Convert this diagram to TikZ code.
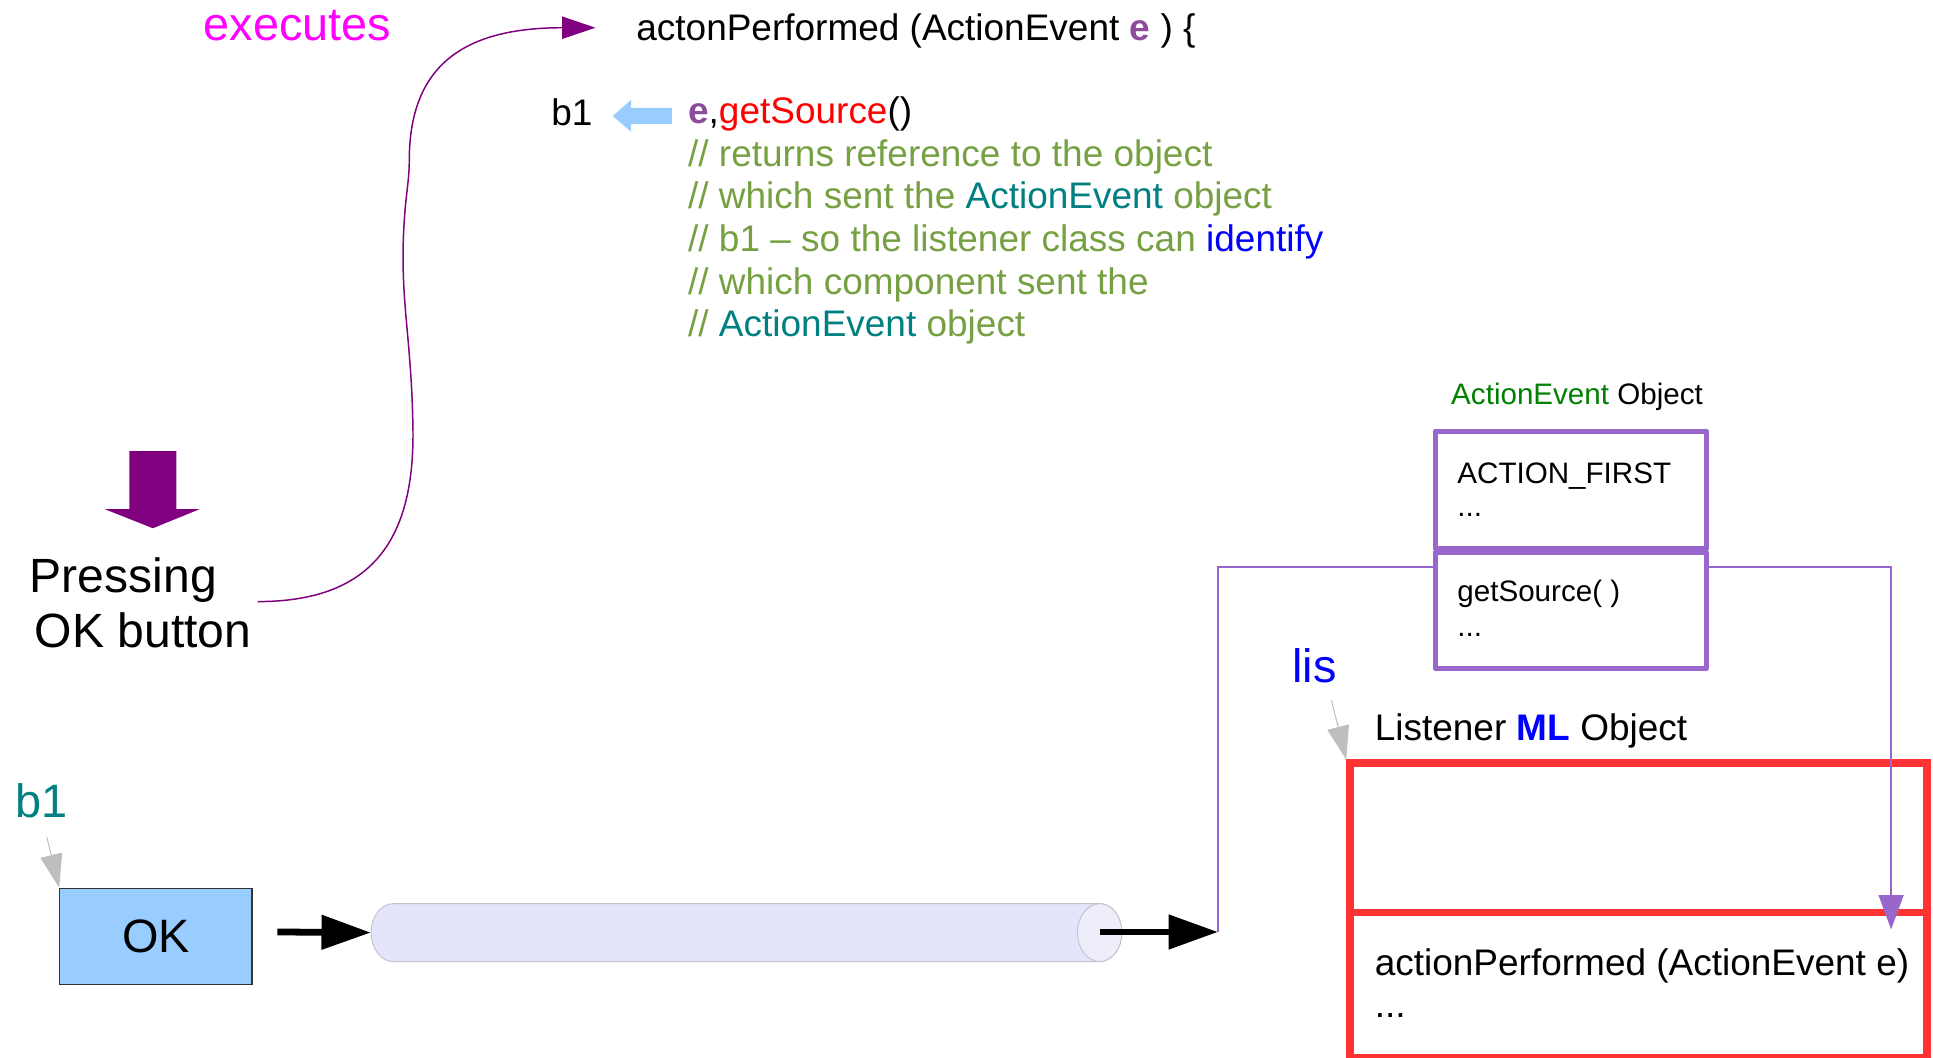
\documentclass[tikz,border=0pt]{standalone}
\usepackage{fontspec}
\setmainfont{Liberation Sans}
\usetikzlibrary{arrows.meta,calc}

\definecolor{execmag}{HTML}{FF00FF}
\definecolor{flowpurple}{HTML}{800080}
\definecolor{epurple}{HTML}{8E4B9C}
\definecolor{codegreen}{HTML}{77A043}
\definecolor{typeteal}{HTML}{008080}
\definecolor{objgreen}{HTML}{008000}
\definecolor{linkviolet}{HTML}{9966CC}
\definecolor{boxred}{HTML}{FF3333}
\definecolor{okblue}{HTML}{99CCFF}
\definecolor{pipefill}{HTML}{E4E4FA}
\definecolor{pipeend}{HTML}{EEEEFB}
\definecolor{pipeedge}{HTML}{C4C4CC}
\definecolor{pointgray}{HTML}{BEBEBE}

\newcommand\txtsize[1]{\fontsize{#1}{#1}\selectfont}

\begin{document}
\begin{tikzpicture}[x=1pt,y=-1pt,
  lbl/.style={inner sep=0pt, anchor=base west},
  codeline/.style={lbl, font=\txtsize{30}, text=codegreen},
  aebox/.style={draw=linkviolet, line width=4.2pt, line join=round, anchor=north west,
    inner sep=0pt, minimum width=220},
  mlbox/.style={draw=boxred, line width=6pt, anchor=north west, inner sep=0pt,
    minimum width=468},
  pointer/.style={pointgray, line width=0.8pt, -{Triangle[length=27pt,width=18pt]}},
  flow/.style={line width=5.5pt, -{Triangle[length=40pt,width=27pt]}},
  link/.style={linkviolet, line width=2.2pt},
]
\useasboundingbox (0,0) rectangle (1568,858);
\fill[white] (0,0) rectangle (1568,858);

% ---- handler header and its comments ----
\node[lbl, font=\txtsize{38}, text=execmag] (exec) at (165,33) {executes};
\node[lbl, font=\txtsize{30}] (header) at (516,33)
  {actonPerformed (ActionEvent {\bfseries\color{epurple}e} ) \{};

\node[lbl, font=\txtsize{30}] (src) at (447,102) {b1};
\fill[okblue] (497,94) -- (512,81) -- (512,87.5) -- (545,87.5) -- (545,100.5)
  -- (512,100.5) -- (512,107) -- cycle;
\node[lbl, font=\txtsize{30}] (code1) at (558,100)
  {{\bfseries\color{epurple}e},{\color{red}getSource}()};
\node[codeline] (code2) at (558,135) {// returns reference to the object};
\node[codeline] (code3) at (558,169.5) {// which sent the {\color{typeteal}ActionEvent} object};
\node[codeline] (code4) at (558,204) {// b1 – so the listener class can {\color{blue}identify}};
\node[codeline] (code5) at (558,238.5) {// which component sent the};
\node[codeline] (code6) at (558,273) {// {\color{typeteal}ActionEvent} object};

% ---- user action ----
\fill[flowpurple] (105,366) -- (143,366) -- (143,413) -- (162,413) -- (124,428.5)
  -- (85,413) -- (105,413) -- cycle;
\node[lbl, font=\txtsize{39}] (press1) at (24,481) {Pressing};
\node[lbl, font=\txtsize{39}] (press2) at (28,525) {OK button};

\coordinate (curvestart) at (209,488);
\coordinate (curveend) at (483,22.5);
\draw[flowpurple, line width=1.2pt, -{Triangle[length=27pt,width=18pt]}]
  (curvestart) .. controls (300,488) and (336,440) .. (335,349)
  .. controls (334,280) and (326,250) .. (327,200)
  .. controls (328,160) and (332,150) .. (332,130)
  .. controls (332,50) and (380,22.5) .. (curveend);

% ---- button and event pipe ----
\node[lbl, font=\txtsize{38}, text=typeteal] (b1lbl) at (12,663) {b1};
\node[draw=black!80, line width=1pt, fill=okblue, minimum width=156, minimum height=78,
  anchor=north west, inner sep=0pt, font=\txtsize{38}] (okbtn) at (48,720) {OK};
\coordinate (b1tail) at (38,679);
\draw[pointer] (b1tail) -- (okbtn.north west);

\node[minimum width=609, minimum height=47, inner sep=0pt] (pipe) at (605.5,756.5) {};
\path[draw=pipeedge, fill=pipefill, line width=0.8pt]
  (319,733) -- (892,733) arc[start angle=-90, end angle=90, x radius=18, y radius=23.5]
  -- (319,780) arc[start angle=90, end angle=270, x radius=18, y radius=23.5] -- cycle;
\draw[pipeedge, fill=pipeend, line width=0.8pt] (892,756.5) ellipse[x radius=18, y radius=23.5];
\coordinate (pipeout) at (892,756);
\coordinate (okout) at (225,756);
\coordinate (junction) at (988,756);
\draw[flow] (okout) -- (pipe.west);
\draw[flow] (pipeout) -- (junction);

% ---- ActionEvent object ----
\node[lbl, font=\txtsize{24}] (aelbl) at (1177,328.5) {{\color{objgreen}ActionEvent} Object};
\node[aebox, minimum height=95] (aeTop) at (1162,348) {};
\node[aebox, minimum height=94] (aeBot) at (1162,446) {};
\node[lbl, font=\txtsize{24}] (aeField) at (1182,392) {ACTION\_FIRST};
\node[lbl, font=\txtsize{24}] (aeDots1) at (1182,419) {...};
\node[lbl, font=\txtsize{24}] (aeMeth) at (1182,488) {getSource( )};
\node[lbl, font=\txtsize{24}] (aeDots2) at (1182,516) {...};

% ---- listener object ----
\node[lbl, font=\txtsize{38}, text=blue] (lislbl) at (1048,554) {lis};
\node[lbl, font=\txtsize{30}] (mllbl) at (1115,601) {Listener {\bfseries\color{blue}ML} Object};
\node[mlbox, minimum height=121] (mlTop) at (1092,616) {};
\node[mlbox, minimum height=118] (mlBot) at (1092,737) {};
\node[lbl, font=\txtsize{30}] (mlMeth) at (1115,791) {actionPerformed (ActionEvent e)};
\node[lbl, font=\txtsize{30}] (mlDots) at (1115,825.5) {...};
\coordinate (listail) at (1080,568);
\draw[pointer] (listail) -- (mlTop.north west);

% ---- event delivery path ----
\coordinate (linkknee) at (988,460);
\coordinate (mltarget) at (1534,754);
\draw[link] (junction) -- (linkknee) -- (linkknee -| aeBot.west);
\draw[link, -{Triangle[length=28pt,width=20pt]}] (aeBot.east |- linkknee) -| (mltarget);
\end{tikzpicture}
\end{document}
